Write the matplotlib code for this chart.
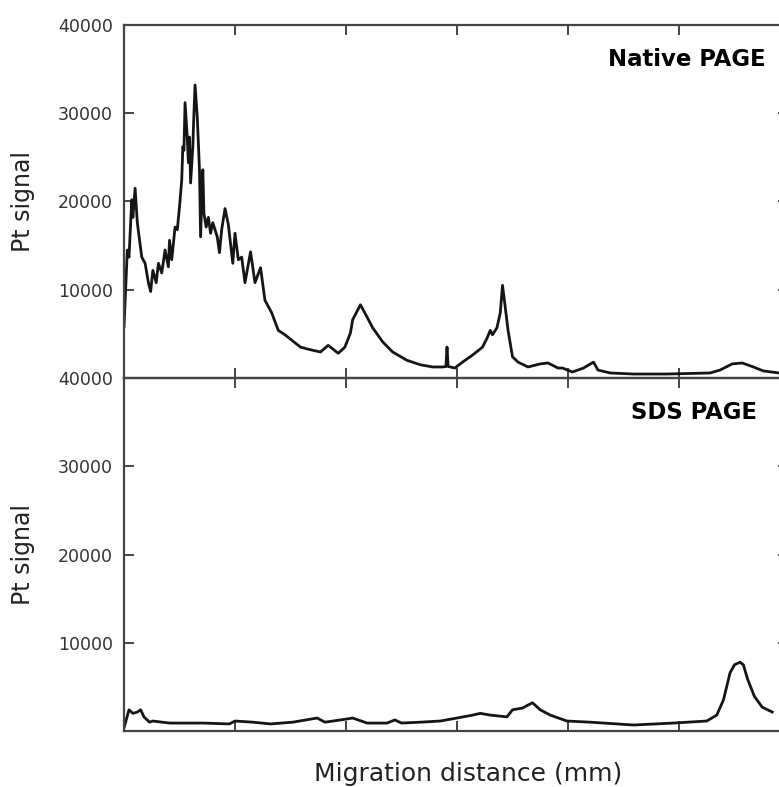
import numpy as np
import matplotlib.pyplot as plt

# Pt signal traces along the gel lane (x in mm, signal in counts)
native_mm = [0.0, 0.3, 0.45, 0.7, 0.8, 1.0, 1.2, 1.25, 1.6, 1.9, 2.2, 2.4, 2.6, 2.9, 3.1,
             3.4, 3.7, 4.0, 4.1, 4.3, 4.6, 4.8, 5.0, 5.2, 5.3, 5.4, 5.5, 5.7, 5.8, 5.9,
             6.0, 6.2, 6.3, 6.4, 6.6, 6.8, 6.9, 7.1, 7.2, 7.4, 7.6, 7.8, 8.0, 8.4, 8.6,
             8.8, 9.1, 9.4, 9.8, 10.0, 10.3, 10.6, 10.9, 11.4, 11.8, 12.3, 12.7, 13.3,
             13.9, 14.5, 15.1, 15.9, 16.8, 17.7, 18.4, 19.3, 19.9, 20.4, 20.6, 21.3,
             21.9, 22.4, 23.3, 24.2, 25.5, 26.7, 27.8, 28.7, 29.0, 29.1, 29.2, 29.4,
             29.8, 30.5, 31.4, 32.3, 32.7, 33.0, 33.2, 33.6, 33.9, 34.1, 34.3, 34.6,
             35.0, 35.5, 36.4, 37.5, 38.2, 39.1, 39.5, 40.4, 41.4, 42.3, 42.7, 43.8,
             45.9, 48.9, 52.8, 53.7, 54.8, 55.7, 56.7, 57.6, 59.0]
native_pt = [5800, 14500, 13700, 20200, 18200, 21500, 17600, 17100, 13700, 13000, 10800,
             9800, 12200, 10800, 13000, 11900, 14500, 12600, 15600, 13400, 17100, 16800,
             19400, 22400, 26200, 25800, 31200, 27300, 24400, 27300, 22100, 26200, 30000,
             33200, 29600, 23600, 16000, 23600, 18700, 17100, 18200, 16400, 17600, 16000,
             14200, 16800, 19200, 17400, 13000, 16400, 13400, 13700, 10800, 14300, 10800,
             12500, 8800, 7400, 5400, 4900, 4300, 3500, 3200, 2950, 3700, 2800, 3500,
             5100, 6600, 8300, 6900, 5700, 4100, 2950, 2000, 1500, 1250, 1250, 1300,
             3500, 1300, 1250, 1130, 1800, 2600, 3500, 4500, 5400, 4900, 5700, 7400,
             10500, 8500, 5400, 2400, 1800, 1250, 1600, 1700, 1130, 1130, 680, 1130,
             1800, 900, 570, 450, 450, 570, 900, 1600, 1700, 1250, 800, 570]

sds_mm = [0.0, 0.45, 0.8, 1.2, 1.5, 1.8, 2.3, 2.6, 4.1, 7.1, 9.5, 10.0, 11.6, 13.2, 15.2,
          17.4, 18.1, 19.5, 20.6, 21.9, 23.7, 24.4, 25.0, 26.7, 28.5, 30.0, 31.4, 32.1,
          33.0, 34.5, 35.0, 35.9, 36.8, 37.5, 38.4, 39.9, 42.0, 45.9, 49.5, 52.5, 53.4,
          54.0, 54.6, 55.0, 55.5, 55.8, 56.2, 56.8, 57.5, 58.4]
sds_pt = [340, 2400, 2000, 2150, 2400, 1600, 1000, 1130, 900, 900, 800, 1130, 1000, 800,
          1000, 1470, 1000, 1250, 1470, 900, 900, 1250, 900, 1000, 1130, 1470, 1800, 2000,
          1800, 1600, 2400, 2600, 3200, 2400, 1800, 1130, 1000, 680, 900, 1130, 1800,
          3500, 6600, 7500, 7800, 7500, 5800, 3900, 2700, 2150]

yticks = [10000, 20000, 30000, 40000]
xticks = [10, 20, 30, 40, 50]

W, H = 779, 787
fig = plt.figure(figsize=(W / 100, H / 100), dpi=100)

# right spine sits just past the figure edge, only the tick tips show
left, right = 124, 788
ax_top = fig.add_axes([left / W, 1 - 378 / H, (right - left) / W, 353 / H])
ax_bot = fig.add_axes([left / W, 1 - 731 / H, (right - left) / W, 353 / H])

panels = [(ax_top, native_mm, native_pt, 'Native PAGE', 0.967),
          (ax_bot, sds_mm, sds_pt, 'SDS PAGE', 0.953)]

for ax, x, y, name, tx in panels:
    ax.plot(x, y, color='#151515', lw=2.0)
    ax.set_xlim(0, (right - left) / 11.1)
    ax.set_ylim(0, 40000)
    ax.set_yticks(yticks)
    ax.set_yticklabels([str(v) for v in yticks])
    ax.set_xticks(xticks)
    ax.set_xticklabels([])
    for s in ax.spines.values():
        s.set_color('#444444')
        s.set_linewidth(1.6)
    ax.tick_params(direction='in', length=7.5, width=1.4, color='#444444',
                   top=True, labelsize=12.5, labelcolor='#333333', pad=8)
    ax.tick_params(axis='y', which='both', right=True, length=7.5, width=1.0,
                   color='#bbbbbb')
    ax.tick_params(axis='y', which='both', left=True, color='#444444', width=1.4)
    ax.text(tx, 0.884, name, transform=ax.transAxes, ha='right', va='baseline',
            fontsize=16.4, fontweight='bold', color='black')
    ax.set_facecolor('none')

for cy in [(25 + 378) / 2, (378 + 731) / 2]:
    fig.text(23 / W, 1 - cy / H, 'Pt signal', rotation=90, ha='center', va='center',
             fontsize=17, color='#222222')

fig.text(468 / W, 6 / H, 'Migration distance (mm)', ha='center', va='baseline',
         fontsize=18, color='#222222')

fig.savefig('out.png', dpi=100)
